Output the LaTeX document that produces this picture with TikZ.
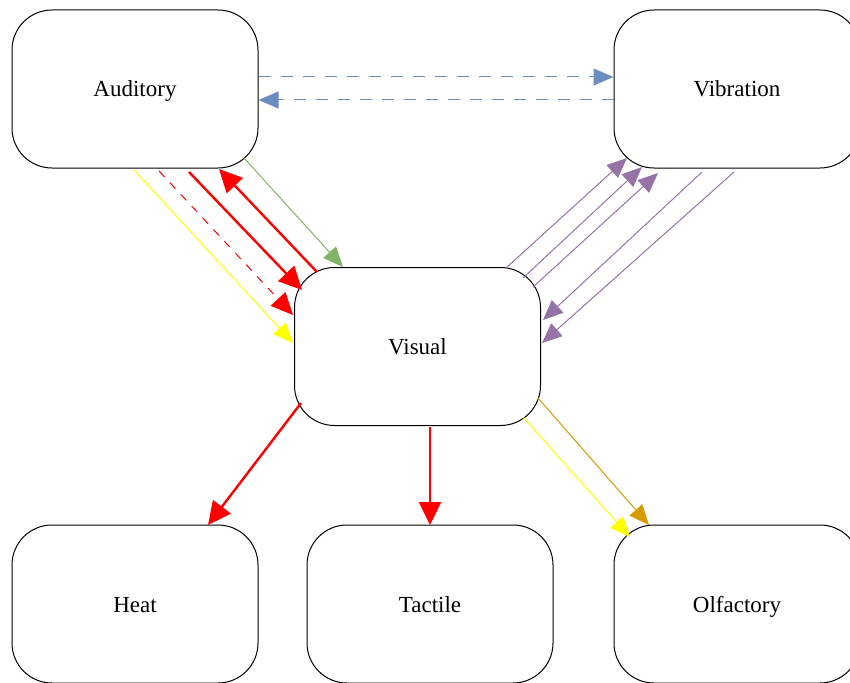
\documentclass[tikz,border=0pt]{standalone}
\usepackage{fontspec}
\setmainfont{Liberation Serif}
\usetikzlibrary{arrows.meta,calc}
\definecolor{cblue}{HTML}{6C8EBF}
\definecolor{cgreen}{HTML}{82B366}
\definecolor{cpurple}{HTML}{9673A6}
\definecolor{corange}{HTML}{D79B00}
\definecolor{cyellow}{HTML}{FFFF00}
\definecolor{cred}{HTML}{FF0000}
\begin{document}
\begin{tikzpicture}[x=1pt,y=-1pt,
  box/.style={draw=black,line width=1pt,rounded corners=40pt,minimum width=246pt,minimum height=158pt,inner sep=0pt,text height=16pt,text depth=0pt,font=\fontsize{23}{27}\selectfont},
  thin/.style={line width=1pt,-{Triangle[length=20pt,width=17pt]}},
  thick/.style={line width=2.4pt,-{Triangle[length=23pt,width=22pt]}},
  bdash/.style={dash pattern=on 12pt off 10pt},
  rdash/.style={dash pattern=on 8pt off 8pt}]
\useasboundingbox (0,0) rectangle (850,682);
\node[box] (aud) at (135,89) {Auditory};
\node[box] (vib) at (737,89) {Vibration};
\node[box] (vis) at (417.5,346.5) {Visual};
\node[box] (heat) at (135,604) {Heat};
\node[box] (tac) at (430,604) {Tactile};
\node[box] (olf) at (737,604) {Olfactory};
% blue dashed
\draw[thin,cblue,bdash] ($(aud.east)+(0,-12)$) -- ($(vib.west)+(0,-12)$);
\draw[thin,cblue,bdash] ($(vib.west)+(0,11)$) -- ($(aud.east)+(0,11)$);
% auditory -> visual
\draw[thin,cyellow] ($(aud)+(-1,81)$) -- ($(vis)+(-124.5,-3.5)$);
\draw[cred,line width=1pt,rdash,-{Triangle[length=22pt,width=20pt]}] ($(aud)+(24,82)$) -- ($(vis)+(-124.5,-31.5)$);
\draw[thick,cred] ($(aud)+(54,83)$) -- ($(vis)+(-115.5,-56.5)$);
\draw[thick,cred] ($(vis)+(-100.5,-74.5)$) -- ($(aud)+(84,80)$);
\draw[thin,cgreen] ($(aud)+(109,69)$) -- ($(vis)+(-74.5,-79.5)$);
% visual <-> vibration
\draw[thin,cpurple] ($(vis)+(88.5,-78.5)$) -- ($(vib)+(-110,69)$);
\draw[thin,cpurple] ($(vis)+(105.5,-68.5)$) -- ($(vib)+(-95,78)$);
\draw[thin,cpurple] ($(vis)+(115.5,-59.5)$) -- ($(vib)+(-79,84)$);
\draw[thin,cpurple] ($(vib)+(-35,83)$) -- ($(vis)+(125.5,-26.5)$);
\draw[thin,cpurple] ($(vib)+(-3,83)$) -- ($(vis)+(124.5,-3.5)$);
% visual -> bottom
\draw[thick,cred] ($(vis)+(-116.5,56.5)$) -- ($(heat)+(73,-79)$);
\draw[thick,cred] ($(vis)+(12.5,80.5)$) -- ($(tac)+(0,-79)$);
\draw[thin,cyellow] ($(vis)+(105.5,70.5)$) -- ($(olf)+(-107,-67)$);
\draw[thin,corange] ($(vis)+(120.5,51.5)$) -- ($(olf)+(-88,-79)$);
\end{tikzpicture}
\end{document}
